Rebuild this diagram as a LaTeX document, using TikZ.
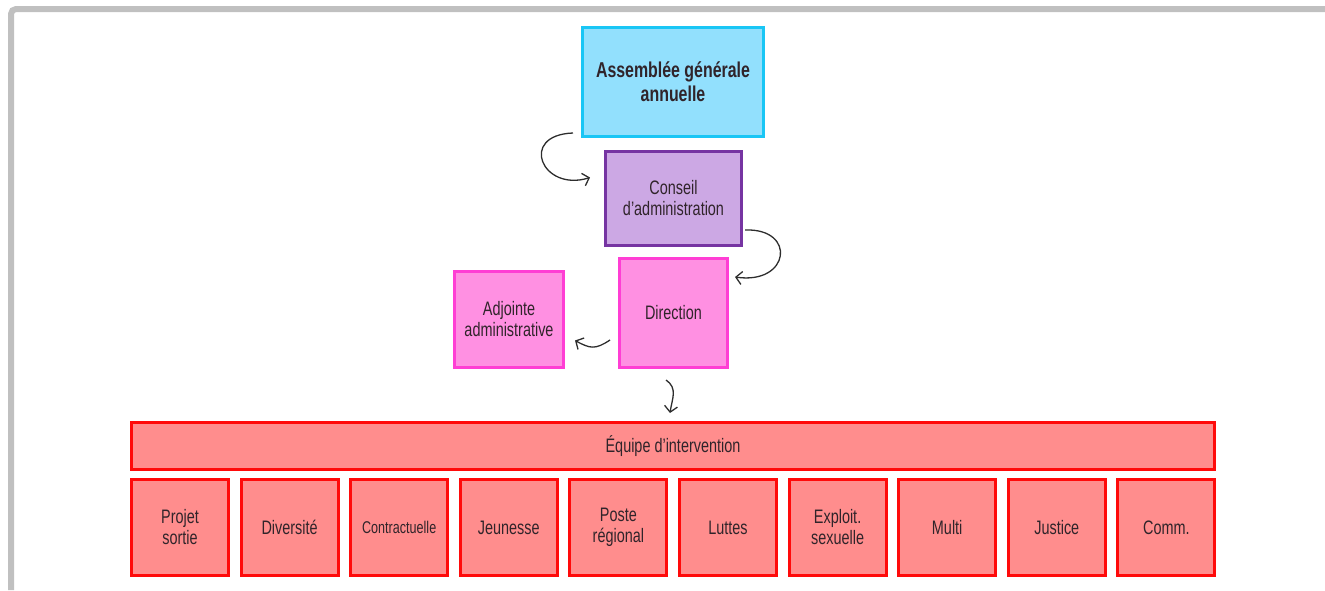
\documentclass[tikz,border=0pt]{standalone}
\usepackage{fontspec}
\setmainfont{Liberation Sans}[FakeStretch=0.74]
\usetikzlibrary{arrows.meta}

\definecolor{agefill}{RGB}{146,224,253}
\definecolor{ageline}{RGB}{25,198,245}
\definecolor{cafill}{RGB}{204,168,228}
\definecolor{caline}{RGB}{118,52,162}
\definecolor{dirfill}{RGB}{255,144,226}
\definecolor{dirline}{RGB}{255,62,212}
\definecolor{eqfill}{RGB}{255,141,141}
\definecolor{eqline}{RGB}{255,10,10}
\definecolor{textdark}{RGB}{48,36,42}
\definecolor{arrowgray}{RGB}{45,45,45}
\definecolor{framegray}{RGB}{192,192,192}

\begin{document}
\begin{tikzpicture}[x=1pt, y=-1pt,
  every node/.style={font=\fontsize{19.5}{21}\selectfont, text=textdark, align=center, inner sep=0pt, line width=3pt},
  agebox/.style={draw=ageline, fill=agefill, minimum width=181pt, minimum height=109pt, font=\bfseries\fontsize{21.5}{24}\selectfont},
  cabox/.style={draw=caline, fill=cafill, minimum width=136pt, minimum height=94pt},
  dirbox/.style={draw=dirline, fill=dirfill},
  eqbox/.style={draw=eqline, fill=eqfill, minimum width=97pt, minimum height=96pt},
  curvy/.style={draw=arrowgray, line width=1.3pt, -{Straight Barb[length=6pt,width=13pt]}}]

  \useasboundingbox (0,0) rectangle (1325,590);
  % frame
  \draw[framegray, line width=6pt, rounded corners=5pt] (11,590) -- (11,9) -- (1325,9);

  % Top of the chart
  \node[agebox] (age) at (673,82) {Assemblée générale\\annuelle};
  \node[cabox] (ca) at (673.5,198.5) {Conseil\\d’administration};
  \node[dirbox, minimum width=108pt, minimum height=109pt] (dir) at (673.5,313) {Direction};
  \node[dirbox, minimum width=109pt, minimum height=96pt] (adj) at (509,319.5) {Adjointe\\administrative};

  % Team bar
  \node[eqbox, minimum width=1083pt, minimum height=47pt] (eq) at (673,446) {Équipe d’intervention};

  % Team boxes (bottom row)
  \node[eqbox] (projet) at (180,527.5) {Projet\\sortie};
  \node[eqbox] (diversite) at (289.6,527.5) {Diversité};
  \node[eqbox, font=\fontsize{17}{19}\selectfont] (contract) at (399.2,527.5) {Contractuelle};
  \node[eqbox] (jeunesse) at (508.8,527.5) {Jeunesse};
  \node[eqbox] (poste) at (618.4,527.5) {Poste\\régional};
  \node[eqbox] (luttes) at (728,527.5) {Luttes};
  \node[eqbox] (exploit) at (837.6,527.5) {Exploit.\\sexuelle};
  \node[eqbox] (multi) at (947.2,527.5) {Multi};
  \node[eqbox] (justice) at (1056.8,527.5) {Justice};
  \node[eqbox] (comm) at (1166.4,527.5) {Comm.};

  % Curved arrows
  \draw[curvy] ([shift={(-8,-5)}]age.south west) .. controls +(-55,2) and +(-48,15) .. ([shift={(-14,-21)}]ca.west);
  \draw[curvy] ([shift={(2,-17)}]ca.south east) .. controls +(52,-2) and +(55,8) .. ([shift={(6,20)}]dir.north east);
  \draw[curvy] ([shift={(-8,-29)}]dir.south west) .. controls +(-15,10) and +(15,8) .. ([shift={(10,21)}]adj.east);
  \draw[curvy] ([shift={(-7.5,11)}]dir.south) .. controls +(12,8) and +(2,-14) .. ([shift={(-3.5,44)}]dir.south);

\end{tikzpicture}
\end{document}
